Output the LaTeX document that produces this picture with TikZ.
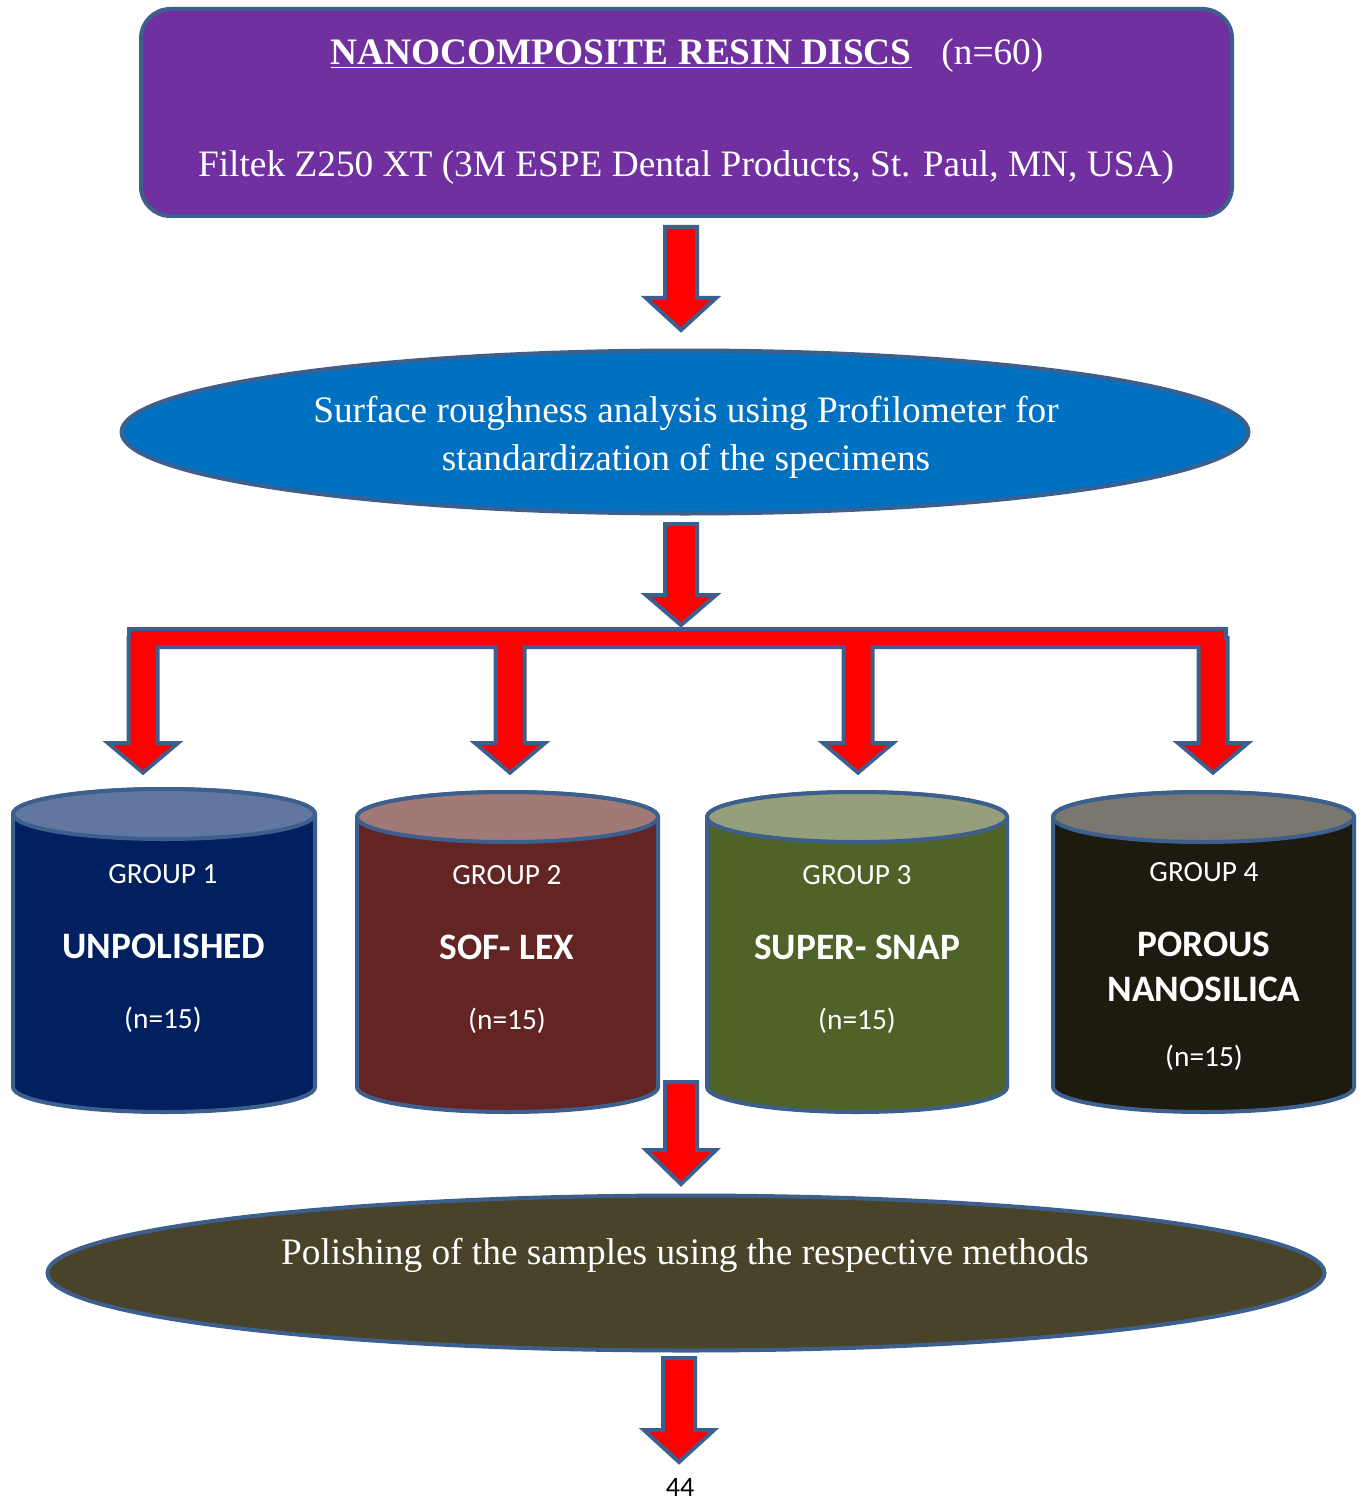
\documentclass[tikz,border=0pt]{standalone}
\usepackage{fontspec}
\setmainfont{Liberation Serif}
\newfontfamily\calfont{Carlito}
\usetikzlibrary{shapes.geometric}
\definecolor{edge}{HTML}{3D5F8E}
\definecolor{arrowred}{HTML}{FF0000}
\definecolor{topfill}{HTML}{7030A0}
\definecolor{ellA}{HTML}{0070C0}
\definecolor{ellB}{HTML}{494429}
\definecolor{gAbody}{HTML}{002060}
\definecolor{gAtop}{HTML}{6177A0}
\definecolor{gBbody}{HTML}{632523}
\definecolor{gBtop}{HTML}{A17A77}
\definecolor{gCbody}{HTML}{4F6228}
\definecolor{gCtop}{HTML}{959F7C}
\definecolor{gDbody}{HTML}{1D1B10}
\definecolor{gDtop}{HTML}{797770}
\newcommand\arrowshape[6]{% cx, ytop, yhead, ytip, shaft, head
  ({#1-#5/2},#2) -- ({#1+#5/2},#2) -- ({#1+#5/2},#3) -- ({#1+#6/2},#3) -- (#1,#4) -- ({#1-#6/2},#3) -- ({#1-#5/2},#3) -- cycle}
\newcommand\cylinderdraw[6]{% L, R, ytop, ybot, body, top
  \pgfmathsetmacro\cylrx{(#2-#1)/2*0.75}
  \pgfmathsetmacro\cylcx{(#1+#2)/2}
  \filldraw[cylline, fill=#5] (#1,#3) -- (#1,#4) arc[start angle=180, end angle=360, x radius=\cylrx pt, y radius=18.75pt] -- (#2,#3) arc[start angle=0, end angle=180, x radius=\cylrx pt, y radius=18.75pt] -- cycle;
  \filldraw[cylline, fill=#6] (\cylcx,#3) ellipse[x radius=\cylrx pt, y radius=18.75pt];
}
\begin{document}
\begin{tikzpicture}[x=0.75pt, y=-0.75pt,
  cylline/.style={draw=edge, line width=3pt},
  redarrow/.style={fill=arrowred, draw=edge, line width=3pt, line join=miter},
  wtext/.style={text=white, inner sep=0pt},
  serifbig/.style={wtext, font=\fontsize{28}{34}\selectfont},
  seriftxt/.style={wtext, font=\fontsize{28}{36}\selectfont},
  grp/.style={wtext, font=\calfont\fontsize{22}{26}\selectfont},
  grpbold/.style={wtext, font=\calfont\bfseries\fontsize{28}{30}\selectfont},
  ]
\useasboundingbox (0,0) rectangle (1361,1501);

% top box
\node[draw=edge, line width=3pt, fill=topfill, rounded corners=22pt,
  minimum width=1091*0.75pt, minimum height=207*0.75pt, inner sep=0pt] (top) at (686.5,112.5) {};
\node[serifbig, anchor=base] (title) at (687,65) {\underline{\textbf{NANOCOMPOSITE RESIN DISCS}}\hspace{0.8em}(n=60)};
\node[serifbig, anchor=base] (product) at (686,177) {Filtek Z250 XT (3M ESPE Dental Products, St. Paul, MN, USA)};

% arrow 1
\filldraw[redarrow] \arrowshape{681}{227}{298}{330}{32}{70};

% ellipse 1
\node[ellipse, draw=edge, line width=3pt, fill=ellA, minimum width=1127*0.75pt, minimum height=163*0.75pt, inner sep=0pt] (ell1) at (685,432) {};
\node[seriftxt, anchor=base] (ell1a) at (686,422) {Surface roughness analysis using Profilometer for};
\node[seriftxt, anchor=base] (ell1b) at (686,470) {standardization of the specimens};

% arrow 2
\filldraw[redarrow] \arrowshape{681}{524}{595}{625}{32}{70};

% branching bar with four arrows: borders first, then fills
\path[draw=edge, line width=6pt, line join=miter]
  (131,631) rectangle (1224,645)
  \arrowshape{143}{640}{745}{770}{25}{59}
  \arrowshape{510}{640}{745}{770}{25}{59}
  \arrowshape{858}{640}{745}{770}{25}{59}
  \arrowshape{1213}{640}{745}{770}{25}{59};
\fill[arrowred] (131,631) rectangle (1224,645);
\fill[arrowred] \arrowshape{143}{640}{745}{770}{25}{59};
\fill[arrowred] \arrowshape{510}{640}{745}{770}{25}{59};
\fill[arrowred] \arrowshape{858}{640}{745}{770}{25}{59};
\fill[arrowred] \arrowshape{1213}{640}{745}{770}{25}{59};

% cylinders
\cylinderdraw{13}{315}{814}{1087}{gAbody}{gAtop}
\cylinderdraw{357}{658}{817}{1087}{gBbody}{gBtop}
\cylinderdraw{707}{1007}{817}{1087}{gCbody}{gCtop}
\cylinderdraw{1053}{1354}{817}{1087}{gDbody}{gDtop}

\node[grp, anchor=base] (g1a) at (163,883) {GROUP 1};
\node[grpbold, anchor=base] (g1b) at (164,958) {UNPOLISHED};
\node[grp, anchor=base] (g1c) at (163,1028) {(n=15)};

\node[grp, anchor=base] (g2a) at (507,884) {GROUP 2};
\node[grpbold, anchor=base] (g2b) at (507,959) {SOF- LEX};
\node[grp, anchor=base] (g2c) at (507,1029) {(n=15)};

\node[grp, anchor=base] (g3a) at (857,884) {GROUP 3};
\node[grpbold, anchor=base] (g3b) at (857,959) {SUPER- SNAP};
\node[grp, anchor=base] (g3c) at (857,1029) {(n=15)};

\node[grp, anchor=base] (g4a) at (1204,881) {GROUP 4};
\node[grpbold, anchor=base] (g4b) at (1204,956) {POROUS};
\node[grpbold, anchor=base] (g4c) at (1204,1001) {NANOSILICA};
\node[grp, anchor=base] (g4d) at (1204,1066) {(n=15)};

% arrow 3
\filldraw[redarrow] \arrowshape{681}{1082}{1150}{1184}{32}{70};

% ellipse 2
\node[ellipse, draw=edge, line width=3pt, fill=ellB, minimum width=1277*0.75pt, minimum height=155*0.75pt, inner sep=0pt] (ell2) at (686,1273) {};
\node[seriftxt, anchor=base] (ell2a) at (685,1264) {Polishing of the samples using the respective methods};

% arrow 4
\filldraw[redarrow] \arrowshape{679}{1358}{1430}{1462}{32}{70};

% page number
\node[font=\calfont\fontsize{21}{25}\selectfont, text=black, inner sep=0pt, anchor=base] (page) at (680,1496) {44};
\end{tikzpicture}
\end{document}
